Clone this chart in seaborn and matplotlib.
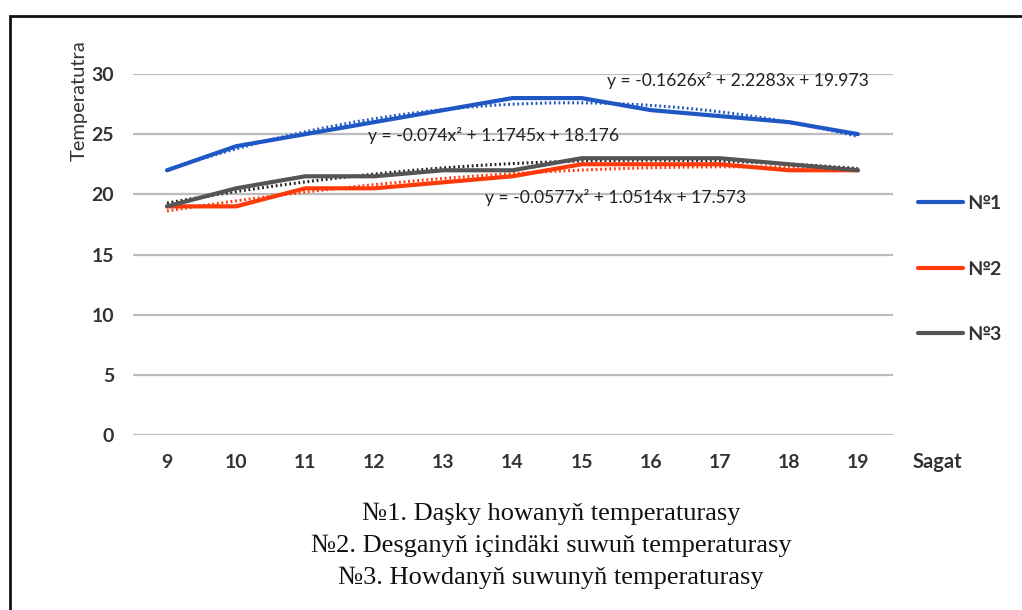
import numpy as np
import pandas as pd
import seaborn as sns
import matplotlib
matplotlib.use("Agg")
import matplotlib.pyplot as plt
from matplotlib.patches import Rectangle
from matplotlib.lines import Line2D

hours = ["9", "10", "11", "12", "13", "14", "15", "16", "17", "18", "19"]
series_names = ["№1", "№2", "№3"]
t1 = [22, 24, 25, 26, 27, 28, 28, 27, 26.5, 26, 25]
t2 = [19, 19, 20.5, 20.5, 21, 21.5, 22.5, 22.5, 22.5, 22, 22]
t3 = [19, 20.5, 21.5, 21.5, 22, 22, 23, 23, 23, 22.5, 22]
colors = ["#1f58c4", "#ff3a0a", "#555555"]
equations = ["y = -0.1626x² + 2.2283x + 19.973",
             "y = -0.074x² + 1.1745x + 18.176",
             "y = -0.0577x² + 1.0514x + 17.573"]
y_ticks = [0, 5, 10, 15, 20, 25, 30]
captions = ["№1. Daşky howanyň temperaturasy",
            "№2. Desganyň içindäki suwuň temperaturasy",
            "№3. Howdanyň suwunyň temperaturasy"]

sns.set_style("white")
plt.rcParams['font.family'] = ['Lato', 'DejaVu Sans']

fig = plt.figure(figsize=(10.22, 6.10), dpi=100)
W, H = 1022, 610
ax = fig.add_axes([132.5 / W, (H - 435) / H, (892.5 - 132.5) / W, (435 - 74) / H])

rows = []
for name, vals in zip(series_names, [t1, t2, t3]):
    for i, v in enumerate(vals):
        rows.append({"idx": i, "hour": hours[i], "temp": v, "series": name})
df = pd.DataFrame(rows)

# trendlines (polynomial order 2) under main lines
xs = np.linspace(0, len(hours) - 1, 200)
for name, vals, c in zip(series_names, [t1, t2, t3], colors):
    coef = np.polyfit(np.arange(len(vals)), vals, 2)
    tc = "#222222" if name == "№3" else c
    sns.lineplot(x=xs, y=np.polyval(coef, xs), ax=ax, color=tc, lw=2.2,
                 linestyle=(0, (0.6, 0.9)), legend=False, zorder=2)

sns.lineplot(data=df, x="idx", y="temp", hue="series", palette=colors,
             ax=ax, lw=3.0, legend=False, zorder=3)

ax.set_xlim(-0.5, len(hours) - 0.5)
ax.set_ylim(0, 30)
ax.set_xticks(range(len(hours)))
ax.set_xticklabels(hours)
ax.set_yticks(y_ticks)
for s in ax.spines.values():
    s.set_visible(False)
ax.grid(axis="y", color="#bdbdbd", lw=1.6)
ax.grid(axis="x", visible=False)
ax.tick_params(axis="both", length=0, labelsize=14, labelcolor="#333333")
ax.tick_params(axis="y", pad=13.3)
ax.tick_params(axis="x", pad=14)
for lab in ax.get_xticklabels() + ax.get_yticklabels():
    lab.set_fontweight("bold")
ax.set_xlabel("")
ax.set_ylabel("")

# equations
eq_pos = [(6.37, 29.5), (2.91, 24.85), (4.60, 19.7)]
for eq, (ex, ey) in zip(equations, eq_pos):
    ax.text(ex, ey, eq, fontsize=12.6, color="#222222", ha="left", va="center")

# axis titles
fig.text(79 / W, 1 - 101 / H, "Temperatutra", rotation=90, fontsize=14.5,
         color="#333333", ha="center", va="center")
fig.text(937 / W, 1 - 462 / H, "Sagat", fontsize=14.5, fontweight="bold",
         color="#333333", ha="center", va="center")

# legend
handles = [Line2D([], [], color=c, lw=3.0) for c in colors]
leg = fig.legend(handles, series_names, loc="upper left",
                 bbox_to_anchor=(900.5 / W, 1 - 177.5 / H), frameon=False,
                 handlelength=2.3, handletextpad=0.25, labelspacing=2.5,
                 fontsize=14, labelcolor="#333333")
for t in leg.get_texts():
    t.set_fontweight("bold")

# caption
for i, cap in enumerate(captions):
    fig.text(551 / W, 1 - (514 + 32 * i) / H, cap, fontsize=19,
             family=["Liberation Serif", "DejaVu Serif"], ha="center",
             va="center", color="#111111")

# outer frame
fig.patches.append(Rectangle((10 / W, -0.2), 1.3, (H - 16) / H + 0.2,
                             transform=fig.transFigure, fill=False,
                             edgecolor="#111111", lw=2.0))

fig.savefig("out.png", dpi=100)
